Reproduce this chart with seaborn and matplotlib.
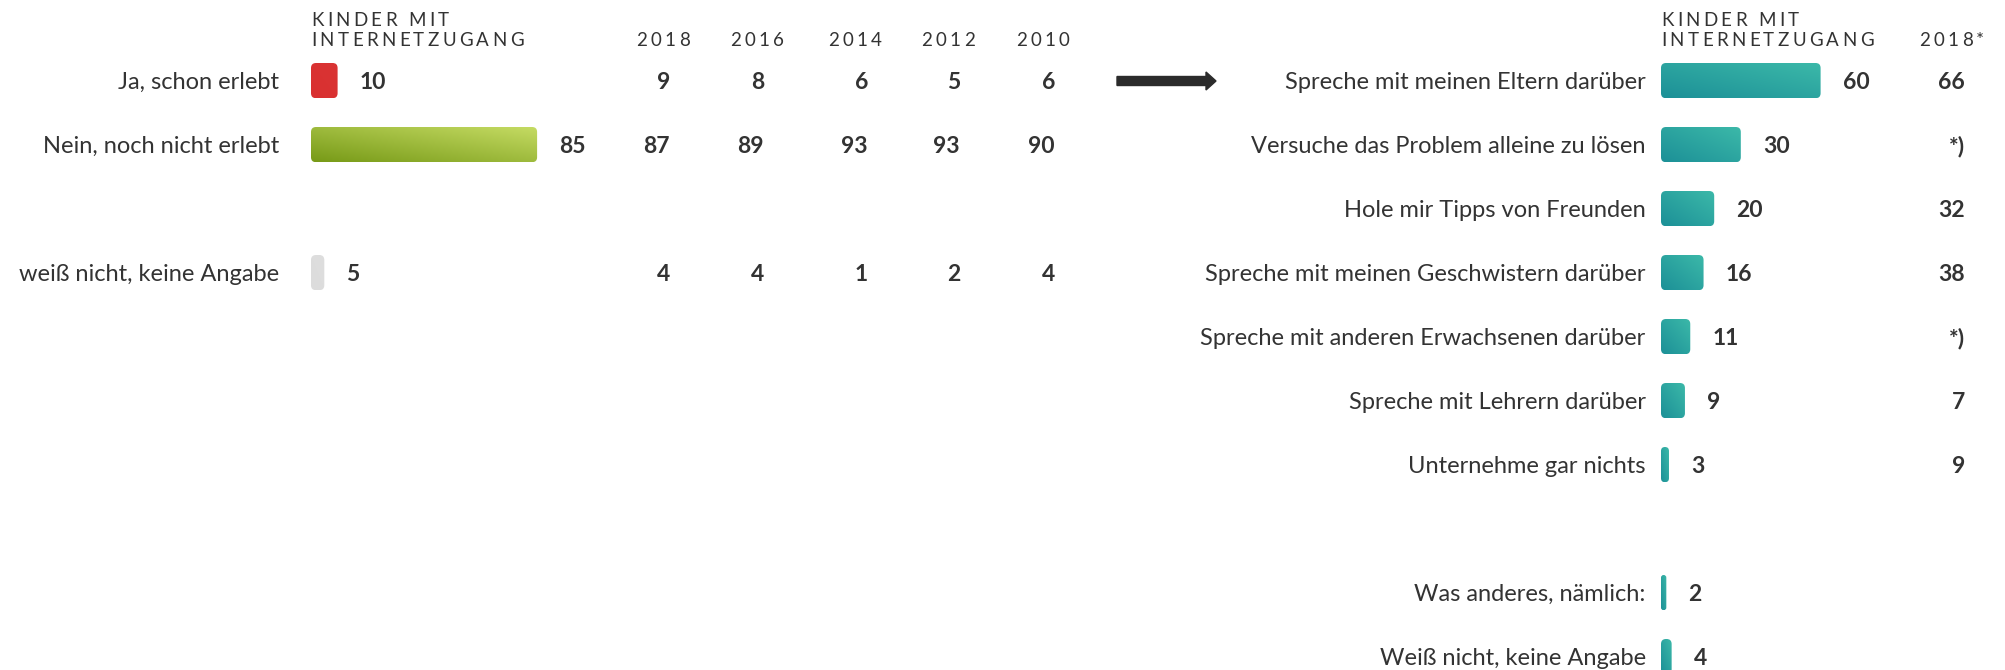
import numpy as np
import matplotlib
matplotlib.use("Agg")
import matplotlib.pyplot as plt
import seaborn as sns
from matplotlib.patches import FancyBboxPatch, FancyArrow
from matplotlib.transforms import IdentityTransform, blended_transform_factory
from matplotlib.font_manager import FontProperties, findfont, get_font
from matplotlib.colors import to_rgb

# --- data -------------------------------------------------------------
left_labels = ["Ja, schon erlebt", "Nein, noch nicht erlebt", "weiß nicht, keine Angabe"]
left_values = [10, 85, 5]

trend_years = ["2018", "2016", "2014", "2012", "2010"]
trend_2018 = [9, 87, 4]
trend_2016 = [8, 89, 4]
trend_2014 = [6, 93, 1]
trend_2012 = [5, 93, 2]
trend_2010 = [6, 90, 4]

right_labels = ["Spreche mit meinen Eltern darüber",
                "Versuche das Problem alleine zu lösen",
                "Hole mir Tipps von Freunden",
                "Spreche mit meinen Geschwistern darüber",
                "Spreche mit anderen Erwachsenen darüber",
                "Spreche mit Lehrern darüber",
                "Unternehme gar nichts",
                "Was anderes, nämlich:",
                "Weiß nicht, keine Angabe"]
right_values = [60, 30, 20, 16, 11, 9, 3, 2, 4]
right_2018 = ["66", "*)", "32", "38", "*)", "7", "9", "", ""]

header_lines = ["KINDER MIT", "INTERNETZUGANG"]
header_right = "2018*"

# empty slots between groups
left_order = left_labels[:2] + [" "] + left_labels[2:]
right_order = right_labels[:7] + [" "] + right_labels[7:]

# --- style ------------------------------------------------------------
sns.set_style("white")
plt.rcParams["font.family"] = ["Lato", "DejaVu Sans"]
TXT = "#333333"
LABEL_SIZE = 17
VALUE_SIZE = 16.5

W, H = 2005, 670
fig = plt.figure(figsize=(W / 100, H / 100), dpi=100)

ROW = 64          # px per row
PX_UNIT = 2.66    # px per percent
top = 80.6 - ROW / 2


def add_px_axes(x0, width):
    height = ROW * 10
    return fig.add_axes([x0 / W, 1 - (top + height) / H, width / W, height / H])


axL = add_px_axes(311, 100 * PX_UNIT)
axR = add_px_axes(1661, 100 * PX_UNIT)

sns.barplot(x=left_values, y=left_labels, order=left_order, orient="y",
            width=0.55, color="0.8", ax=axL)
sns.barplot(x=right_values, y=right_labels, order=right_order, orient="y",
            width=0.55, color="0.8", ax=axR)


def gradient_bar(ax, patch, c0, c1, radius_px=5):
    x0, y0 = patch.get_x(), patch.get_y()
    w, h = patch.get_width(), patch.get_height()
    patch.set_visible(False)
    ux, uy = 1 / PX_UNIT, 1 / ROW
    r = min(radius_px * ux, w / 2)
    box = FancyBboxPatch((x0, y0), w, h,
                         boxstyle=f"round,pad=0,rounding_size={r}",
                         mutation_aspect=uy / ux, facecolor="none",
                         edgecolor="none", transform=ax.transData)
    ax.add_patch(box)
    xn = np.linspace(0, 1, 200)
    yn = np.linspace(0, 1, 40)
    t = (xn[None, :] + yn[:, None]) / 2
    c0, c1 = np.array(to_rgb(c0)), np.array(to_rgb(c1))
    img = c0 + t[..., None] * (c1 - c0)
    im = ax.imshow(img, extent=(x0, x0 + w, y0 + h, y0), origin="lower",
                   aspect="auto", interpolation="bilinear", zorder=2)
    im.set_clip_path(box)


left_colors = {
    "Ja, schon erlebt": ("#d93030", "#da3434"),
    "Nein, noch nicht erlebt": ("#779a17", "#c6dc64"),
    "weiß nicht, keine Angabe": ("#dcdcdc", "#dedede"),
}

for ax, order in [(axL, left_order), (axR, right_order)]:
    for p in list(ax.patches):
        pos = int(round(p.get_y() + p.get_height() / 2))
        lab = order[pos]
        if ax is axL:
            c0, c1 = left_colors[lab]
        else:
            c0, c1 = "#1c9097", "#3cb9a9"
        gradient_bar(ax, p, c0, c1)

# value labels next to bars
for ax, labels, values, order in [(axL, left_labels, left_values, left_order),
                                  (axR, right_labels, right_values, right_order)]:
    for lab, v in zip(labels, values):
        ax.annotate(str(v), xy=(v, order.index(lab)), xytext=(16, 0),
                    textcoords="offset points", ha="left", va="center_baseline",
                    fontsize=VALUE_SIZE, fontweight="bold", color=TXT)

# trend columns (left)
trend_cols = [trend_2018, trend_2016, trend_2014, trend_2012, trend_2010]
head_cx = [663, 757, 855, 948, 1043]
val_rx = [670, 764, 868, 960, 1055]
trL = blended_transform_factory(fig.transFigure, axL.transData)
for col, rx in zip(trend_cols, val_rx):
    for lab, v in zip(left_labels, col):
        axL.text(rx / W, left_order.index(lab), str(v), transform=trL,
                 ha="right", va="center_baseline", fontsize=VALUE_SIZE,
                 fontweight="bold", color=TXT, clip_on=False)

# 2018 column (right)
trR = blended_transform_factory(fig.transFigure, axR.transData)
for lab, v in zip(right_labels, right_2018):
    if v:
        axR.text(1965 / W, right_order.index(lab), v, transform=trR,
                 ha="right", va="center_baseline", fontsize=VALUE_SIZE,
                 fontweight="bold", color=TXT, clip_on=False)

for ax, pad in [(axL, 23), (axR, 11)]:
    ax.set_xlim(0, 100)
    ax.set_ylim(9.5, -0.5)
    ax.set_xlabel("")
    ax.set_ylabel("")
    ax.set_xticks([])
    ax.tick_params(axis="y", length=0, pad=pad, labelsize=LABEL_SIZE, labelcolor=TXT)
    sns.despine(ax=ax, left=True, bottom=True)


# letter-spaced header text
def tracked_text(x_px, base_px, s, size=13.5, track=0.18, ha="left"):
    prop = FontProperties(family=["Lato"], weight="normal", size=size)
    font = get_font(findfont(prop))
    font.set_size(size, 72)
    adv = [font.load_char(ord(c)).linearHoriAdvance / 65536 * 100 / 72 for c in s]
    gap = track * size * 100 / 72
    total = sum(adv) + gap * (len(s) - 1)
    x = x_px - {"left": 0, "center": total / 2, "right": total}[ha]
    for c, a in zip(s, adv):
        fig.text(x / W, 1 - base_px / H, c, fontproperties=prop,
                 color=TXT, va="baseline", ha="left")
        x += a + gap


for x0 in (311, 1661):
    tracked_text(x0, 26, header_lines[0])
    tracked_text(x0, 46, header_lines[1])
for yr, cx in zip(trend_years, head_cx):
    tracked_text(cx, 46, yr, ha="center")
tracked_text(1984, 46, header_right, ha="right")

# arrow between panels
arrow = FancyArrow(1117, H - 81, 99, 0, width=9, head_width=18, head_length=10,
                   length_includes_head=True, color="#2b2b2b",
                   transform=IdentityTransform())
fig.add_artist(arrow)

fig.savefig("out.png", dpi=100, facecolor="white")
